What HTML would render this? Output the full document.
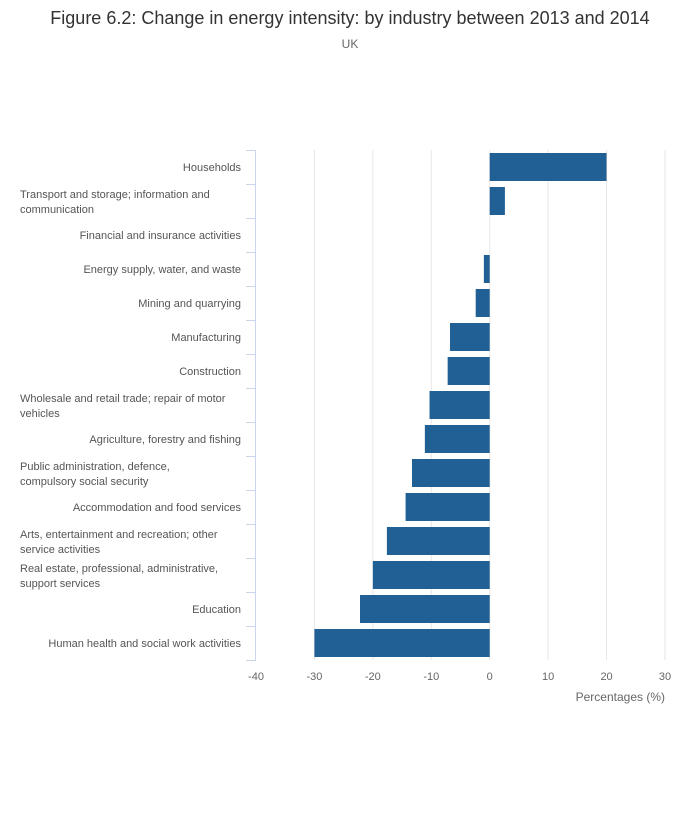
<!DOCTYPE html>
<html><head><meta charset="utf-8"><style>
body{margin:0;background:#fff;font-family:"Liberation Sans",sans-serif;}
svg text{font-family:"Liberation Sans",sans-serif;}
</style></head><body>
<svg width="700" height="810" xmlns="http://www.w3.org/2000/svg">
<text x="350" y="24" text-anchor="middle" font-size="18" fill="#333">Figure 6.2: Change in energy intensity: by industry between 2013 and 2014</text>
<text x="350" y="48" text-anchor="middle" font-size="12" fill="#666">UK</text>
<g id="grid"></g><g id="bars"></g><g id="yaxis"></g><g id="xaxis"></g>
<text x="665" y="701" text-anchor="end" font-size="12" fill="#666">Percentages (%)</text>
</svg>
<script>
const categories=[["Households"],["Transport and storage; information and","communication"],["Financial and insurance activities"],["Energy supply, water, and waste"],["Mining and quarrying"],["Manufacturing"],["Construction"],["Wholesale and retail trade; repair of motor","vehicles"],["Agriculture, forestry and fishing"],["Public administration, defence,","compulsory social security"],["Accommodation and food services"],["Arts, entertainment and recreation; other","service activities"],["Real estate, professional, administrative,","support services"],["Education"],["Human health and social work activities"]];
const values=[20,2.6,0,-1,-2.4,-6.8,-7.2,-10.3,-11.1,-13.3,-14.4,-17.6,-20,-22.2,-30];
const xTicks=[-40,-30,-20,-10,0,10,20,30];
const NS="http://www.w3.org/2000/svg";
const x0=256,x1=665,vmin=-40,vmax=30,topY=150,rowH=34;
const xs=v=>x0+(v-vmin)/(vmax-vmin)*(x1-x0);
function mk(t,a,p){const e=document.createElementNS(NS,t);for(const k in a)e.setAttribute(k,a[k]);document.getElementById(p).appendChild(e);return e;}
const bottomY=topY+rowH*categories.length;
xTicks.forEach(t=>{
 if(t>vmin){const g=mk('line',{x1:xs(t),x2:xs(t),y1:topY,y2:bottomY,stroke:'#e6e6e6'},'grid');
 
 }
 const l=mk('text',{x:xs(t),y:680,'text-anchor':'middle','font-size':11,fill:'#666'},'xaxis');l.textContent=t;
 
 
});
const ax=mk('line',{x1:255.5,x2:255.5,y1:topY,y2:bottomY,stroke:'#ccd6eb'},'yaxis');


for(let i=0;i<=categories.length;i++){
 const tk=mk('line',{x1:246,x2:256,y1:topY+i*rowH+0.5,y2:topY+i*rowH+0.5,stroke:'#ccd6eb'},'yaxis');
 
 
}
categories.forEach((c,i)=>{
 const cy=topY+i*rowH+rowH/2;
 if(c.length===1){const t=mk('text',{x:241,y:cy+4,'text-anchor':'end','font-size':11,fill:'#555'},'yaxis');t.textContent=c[0];
  
  }
 else c.forEach((s,j)=>{const t=mk('text',{x:20,y:cy-3+j*15,'font-size':11,fill:'#555'},'yaxis');t.textContent=s;
  
  });
 const v=values[i];const a=xs(Math.min(0,v)),b=xs(Math.max(0,v));
 const r=mk('rect',{x:a,y:topY+i*rowH+3,width:b-a,height:28,fill:'#206095'},'bars');
 
 
});
</script>
</body></html>
